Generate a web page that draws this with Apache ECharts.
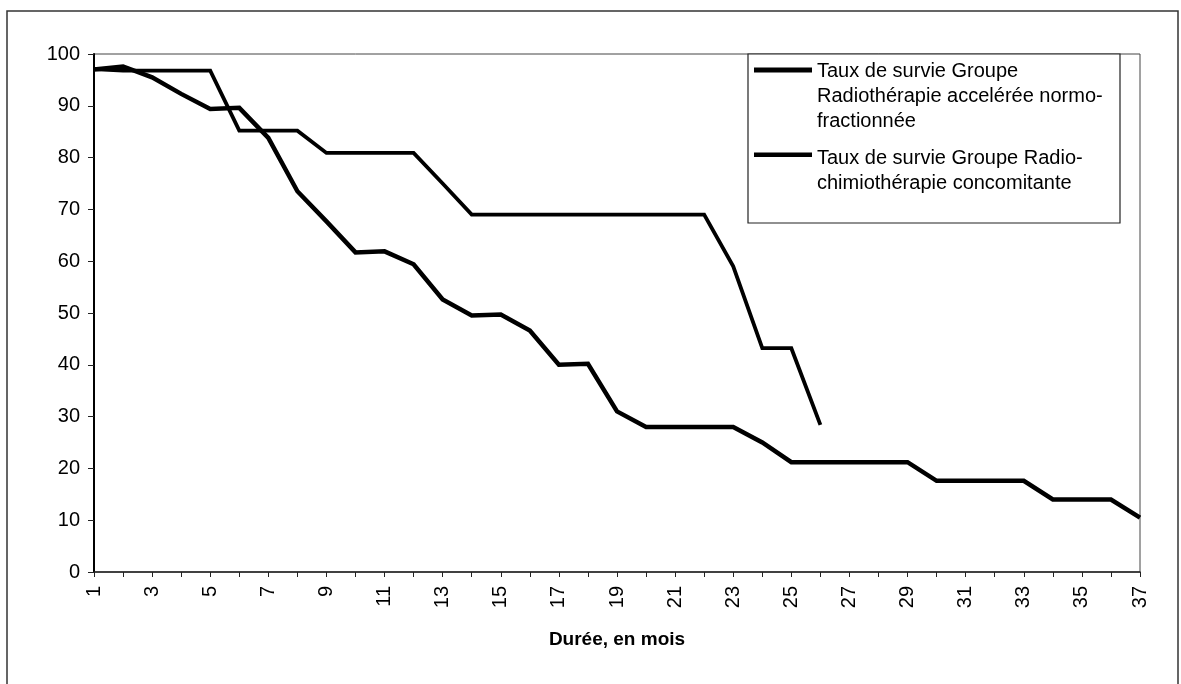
<!DOCTYPE html>
<html>
<head>
<meta charset="utf-8">
<script src="https://cdn.jsdelivr.net/npm/echarts@6/dist/echarts.min.js"></script>
<style>
  html, body { margin: 0; padding: 0; background: #fff; }
  #chart { width: 1181px; height: 684px; }
</style>
</head>
<body>
<div id="chart"></div>
<script>
// Categories: months 1..37
const months = ['1','2','3','4','5','6','7','8','9','10','11','12','13','14','15','16','17','18','19','20',
  '21','22','23','24','25','26','27','28','29','30','31','32','33','34','35','36','37'];

// Series names (legend labels)
const seriesNames = [
  'Taux de survie Groupe\nRadiothérapie accelérée normo-\nfractionnée',
  'Taux de survie Groupe Radio-\nchimiothérapie concomitante'
];

// Survival rate, Radiothérapie accélérée normofractionnée (37 months)
const radioAcceleree = [97, 97.6, 95.5, 92.3, 89.4, 89.6, 83.8, 73.5, 67.7, 61.7, 61.9, 59.4, 52.6, 49.5, 49.7,
  46.6, 40.0, 40.2, 31.0, 28.0, 28.0, 28.0, 28.0, 25.0, 21.2, 21.2, 21.2, 21.2, 21.2, 17.6, 17.6, 17.6, 17.6,
  14.0, 14.0, 14.0, 10.5];

// Survival rate, Radio-chimiothérapie concomitante (26 months)
const radioChimio = [97.1, 96.8, 96.8, 96.8, 96.8, 85.2, 85.2, 85.2, 80.9, 80.9, 80.9, 80.9, 75.0,
  69.0, 69.0, 69.0, 69.0, 69.0, 69.0, 69.0, 69.0, 69.0, 59.0, 43.2, 43.2, 28.4];

// Y axis ticks
const yMin = 0, yMax = 100, yStep = 10;

const xTitle = 'Durée, en mois';

const FONT = '"Liberation Sans", Arial, sans-serif';

const chart = echarts.init(document.getElementById('chart'));

const legendText = { color: '#000', fontSize: 20, lineHeight: 25, fontFamily: FONT };

chart.setOption({
  backgroundColor: '#fff',
  animation: false,
  grid: {
    left: 94, right: 41, top: 54, bottom: 112,
    show: true, borderColor: '#444', borderWidth: 1, backgroundColor: 'transparent'
  },
  graphic: [
    { type: 'rect', z: -1, shape: { x: 7, y: 11, width: 1171, height: 700 },
      style: { fill: 'none', stroke: '#333', lineWidth: 1.5 } },
    { type: 'rect', z: 1, shape: { x: 748, y: 54, width: 372, height: 169 },
      style: { fill: '#fff', stroke: '#222', lineWidth: 1.2 } }
  ],
  legend: [
    {
      data: [{ name: seriesNames[0], icon: 'path://M0,0H58V5H0Z M0,57H0.02V57.02H0Z' }],
      left: 754, top: 58.5, padding: 0, itemWidth: 58, itemHeight: 57,
      symbolKeepAspect: false, itemStyle: { borderWidth: 0 },
      textStyle: legendText, selectedMode: false, z: 5
    },
    {
      data: [{ name: seriesNames[1], icon: 'path://M0,0H58V4.5H0Z M0,36H0.02V36.02H0Z' }],
      left: 754, top: 145.5, padding: 0, itemWidth: 58, itemHeight: 36,
      symbolKeepAspect: false, itemStyle: { borderWidth: 0 },
      textStyle: legendText, selectedMode: false, z: 5
    }
  ],
  xAxis: {
    type: 'category',
    data: months,
    boundaryGap: false,
    name: xTitle,
    nameLocation: 'middle',
    nameGap: 58,
    nameTextStyle: { color: '#000', fontSize: 19, fontWeight: 'bold', fontFamily: FONT },
    axisLine: { lineStyle: { color: '#222', width: 1.5 } },
    axisTick: { show: true, interval: 0, length: 5, lineStyle: { color: '#222', width: 1 } },
    axisLabel: { interval: 1, rotate: 90, margin: 14, color: '#000', fontSize: 20, fontFamily: FONT },
    splitLine: { show: false }
  },
  yAxis: {
    type: 'value',
    min: yMin, max: yMax, interval: yStep,
    axisLine: { show: true, lineStyle: { color: '#000', width: 2 } },
    axisTick: { show: true, length: 6, lineStyle: { color: '#222', width: 1 } },
    axisLabel: { margin: 14, color: '#000', fontSize: 20, fontFamily: FONT },
    splitLine: { show: false }
  },
  series: [
    {
      name: seriesNames[0], type: 'line', data: radioAcceleree,
      symbol: 'none', showSymbol: false, color: '#000',
      lineStyle: { color: '#000', width: 4.5, join: 'miter' }, z: 3
    },
    {
      name: seriesNames[1], type: 'line', data: radioChimio,
      symbol: 'none', showSymbol: false, color: '#000',
      lineStyle: { color: '#000', width: 3.8, join: 'miter' }, z: 3
    }
  ]
});
</script>
</body>
</html>
